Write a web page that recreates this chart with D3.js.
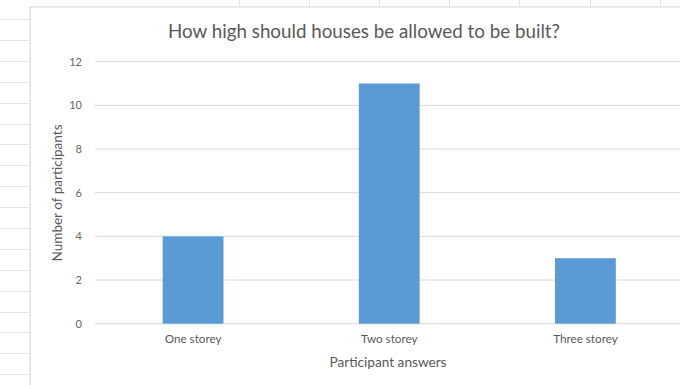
<!DOCTYPE html>
<html>
<head>
<meta charset="utf-8">
<script src="https://cdn.jsdelivr.net/npm/d3@7"></script>
<style>
  html, body { margin: 0; padding: 0; background: #ffffff; }
  svg { display: block; }
  text { font-family: Lato, "Open Sans", "Liberation Sans", sans-serif; }
</style>
</head>
<body>
<svg id="chart" width="680" height="385"></svg>
<script>
// ---- data ----
const categories = ["One storey", "Two storey", "Three storey"];
const values = [4, 11, 3];
const yTicks = [0, 2, 4, 6, 8, 10, 12];
const title = "How high should houses be allowed to be built?";
const xTitle = "Participant answers";
const yTitle = "Number of participants";

// ---- layout ----
const W = 680, H = 385;
const svg = d3.select("#chart");
const chartLeft = 30, chartTop = 7;
const plot = { left: 95, right: 683.5, top: 61.7, bottom: 323.7 };

// spreadsheet background (decorative)
const bg = svg.append("g");
const rowH = 20.9, colW = 70.2;
for (let y = 19; y < H; y += rowH) {
  bg.append("line").attr("x1", 0).attr("x2", chartLeft).attr("y1", Math.round(y) + 0.5).attr("y2", Math.round(y) + 0.5)
    .attr("stroke", "#e3e3e3").attr("stroke-width", 1);
}
for (let x = 238.5; x < W; x += colW) {
  bg.append("line").attr("x1", Math.round(x) + 0.5).attr("x2", Math.round(x) + 0.5).attr("y1", 0).attr("y2", chartTop)
    .attr("stroke", "#e3e3e3").attr("stroke-width", 1);
}
// chart area
svg.append("rect").attr("x", chartLeft).attr("y", chartTop).attr("width", W - chartLeft + 5).attr("height", H - chartTop + 5)
  .attr("fill", "#ffffff").attr("stroke", "#d9d9d9").attr("stroke-width", 1.2);

// ---- scales ----
const x = d3.scaleBand().domain(categories).range([plot.left, plot.right])
  .paddingInner(0.69).paddingOuter(0.345);
const y = d3.scaleLinear().domain([0, 12]).range([plot.bottom, plot.top]);

// gridlines
svg.append("g").selectAll("line").data(yTicks).join("line")
  .attr("x1", plot.left).attr("x2", W)
  .attr("y1", d => y(d)).attr("y2", d => y(d))
  .attr("stroke", "#d9d9d9").attr("stroke-width", 1);

// y axis labels
const yAxis = d3.axisLeft(y).tickValues(yTicks).tickSize(0).tickPadding(0);
const ya = svg.append("g").attr("transform", `translate(82,0)`).call(yAxis);
ya.select(".domain").remove();
ya.selectAll("text").attr("fill", "#666666").attr("font-size", "11px")
  .attr("font-family", "Lato, 'Open Sans', sans-serif");

// bars
svg.append("g").selectAll("rect").data(values).join("rect")
  .attr("x", (d, i) => x(categories[i]))
  .attr("width", x.bandwidth())
  .attr("y", d => y(d))
  .attr("height", d => y(0) - y(d))
  .attr("fill", "#5b9bd5");

// x axis labels
const xAxis = d3.axisBottom(x).tickSize(0).tickPadding(0);
const xa = svg.append("g").attr("transform", `translate(0,${plot.bottom + 11})`).call(xAxis);
xa.select(".domain").remove();
xa.selectAll("text").attr("fill", "#595959").attr("font-size", "11.7px")
  .attr("font-family", "Lato, 'Open Sans', sans-serif");

// title
svg.append("text").attr("x", 364).attr("y", 38).attr("text-anchor", "middle")
  .attr("font-size", "18.5px").attr("fill", "#595959")
  .attr("textLength", 392).attr("lengthAdjust", "spacingAndGlyphs")
  .text(title);

// x axis title
svg.append("text").attr("x", 388).attr("y", 367).attr("text-anchor", "middle")
  .attr("font-size", "13px").attr("fill", "#595959")
  .attr("textLength", 117).attr("lengthAdjust", "spacingAndGlyphs")
  .text(xTitle);

// y axis title
svg.append("text").attr("transform", `translate(62,193) rotate(-90)`).attr("text-anchor", "middle")
  .attr("font-size", "12.5px").attr("fill", "#595959")
  .attr("textLength", 137).attr("lengthAdjust", "spacingAndGlyphs")
  .text(yTitle);
</script>
</body>
</html>
